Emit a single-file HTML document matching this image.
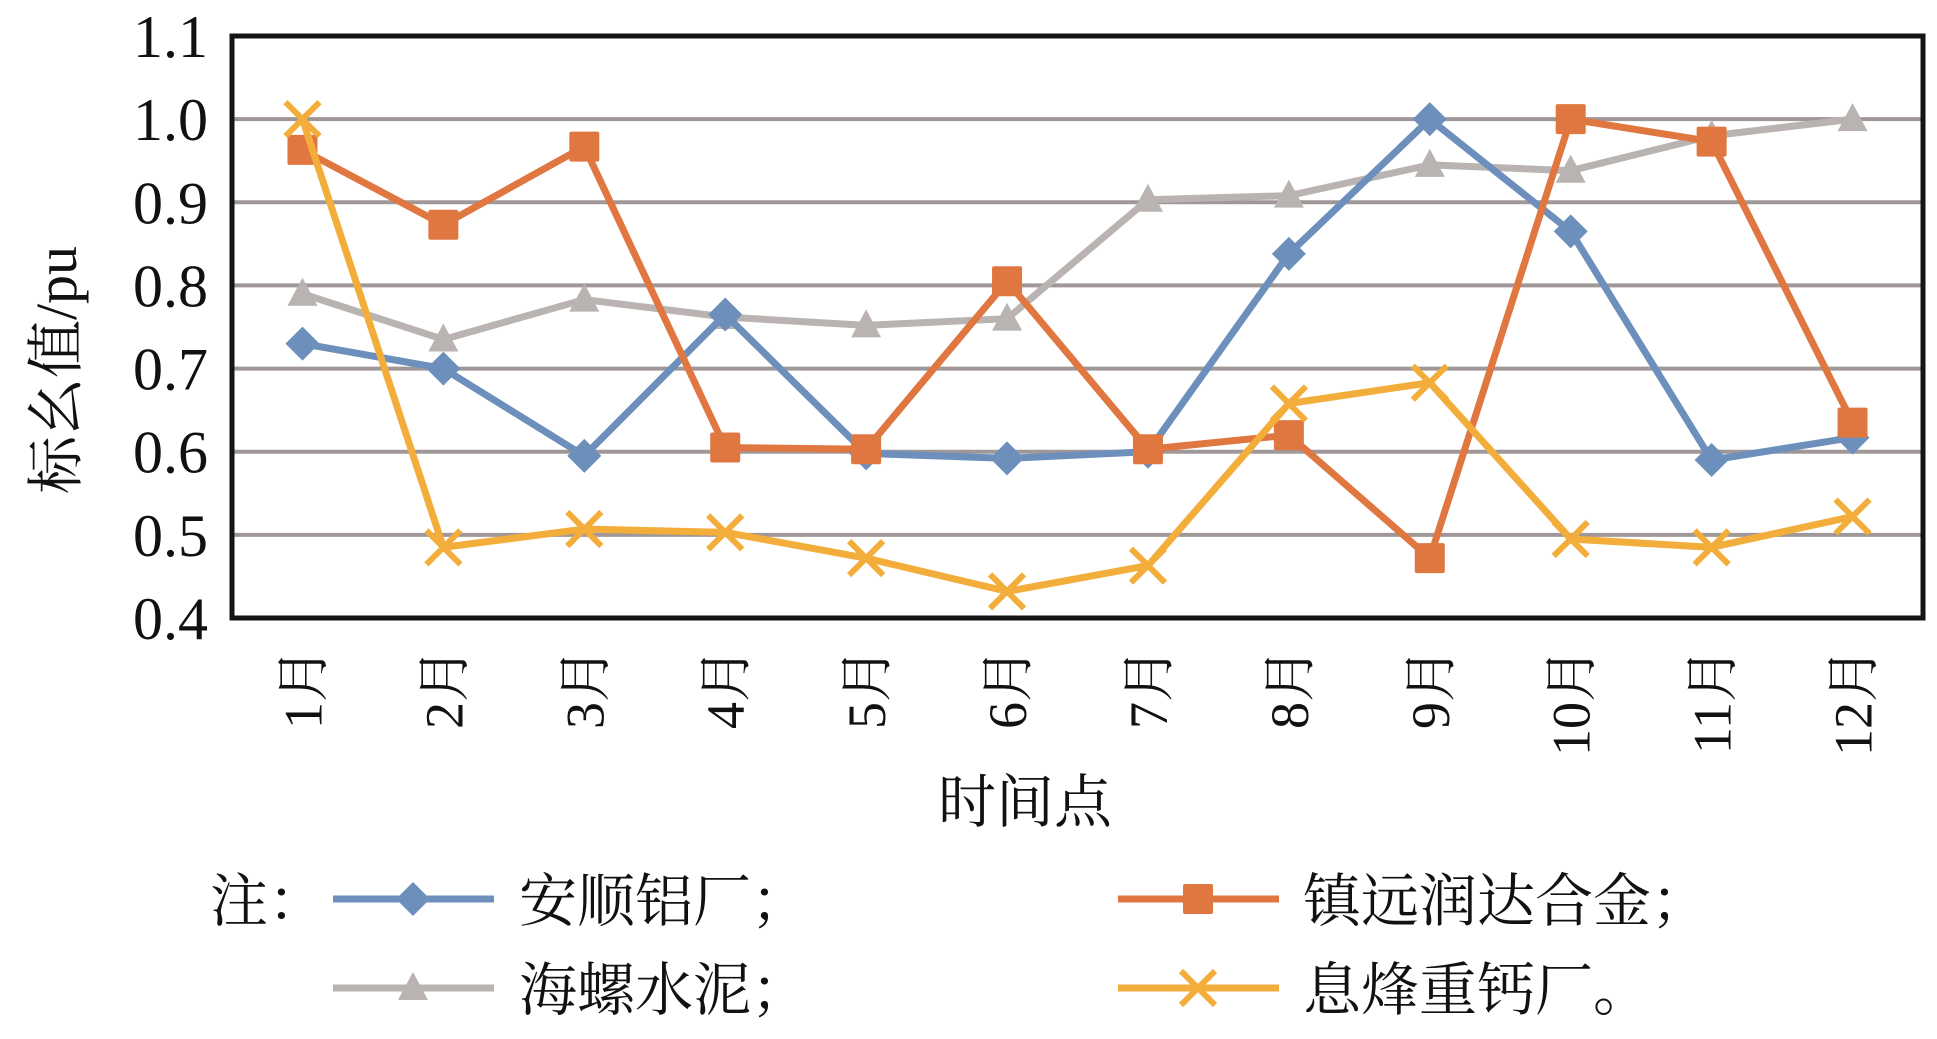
<!DOCTYPE html>
<html><head><meta charset="utf-8"><style>
html,body{margin:0;padding:0;background:#fff;}
svg text{font-family:"Liberation Serif","Noto Serif CJK SC",serif;fill:#111;}
</style></head><body>
<svg id="chart" width="1937" height="1034" viewBox="0 0 1937 1034" xmlns="http://www.w3.org/2000/svg"></svg>
<script>
const categories=["1月","2月","3月","4月","5月","6月","7月","8月","9月","10月","11月","12月"];
const yTicks=[0.4,0.5,0.6,0.7,0.8,0.9,1.0,1.1];
const anshun=[0.73,0.70,0.595,0.765,0.598,0.592,0.60,0.838,1.0,0.865,0.59,0.617];
const zhenyuan=[0.963,0.873,0.967,0.605,0.603,0.805,0.603,0.62,0.472,1.0,0.973,0.635];
const haiLuo=[0.79,0.735,0.783,0.762,0.752,0.76,0.903,0.908,0.945,0.938,0.98,1.0];
const xiFeng=[1.0,0.485,0.507,0.503,0.472,0.432,0.463,0.658,0.683,0.495,0.485,0.522];
const seriesNames=["安顺铝厂；","镇远润达合金；","海螺水泥；","息烽重钙厂。"];

const NS="http://www.w3.org/2000/svg";
const svg=document.getElementById('chart');
const L=232,R=1923,T=36,B=618,yMin=0.4,yMax=1.1;
const xs=i=>L+(R-L)/categories.length*(i+0.5);
const ys=v=>B-(v-yMin)/(yMax-yMin)*(B-T);
function mk(tag,attrs,parent){const e=document.createElementNS(NS,tag);for(const k in attrs)e.setAttribute(k,attrs[k]);(parent||svg).appendChild(e);return e;}

yTicks.forEach(t=>{
  if(t>yMin&&t<yMax){const g=mk('line',{x1:L,x2:R,y1:ys(t),y2:ys(t),stroke:'#a09898','stroke-width':4});
  
  }
  const tx=mk('text',{x:208,y:ys(t)+21,'text-anchor':'end','font-size':60});
  tx.textContent=t.toFixed(1);
  
  
});
const frame=mk('rect',{x:L,y:T,width:R-L,height:B-T,fill:'none',stroke:'#141414','stroke-width':5});



categories.forEach((c,i)=>{
  const tx=mk('text',{transform:`translate(${xs(i)+19},648) rotate(-90)`,'text-anchor':'end','font-size':54});
  tx.textContent=c;
  
  
});
const yt=mk('text',{transform:'translate(76,370) rotate(-90)','text-anchor':'middle','font-size':58});
yt.textContent='标幺值/pu';


const xt=mk('text',{x:1025,y:822,'text-anchor':'middle','font-size':58});
xt.textContent='时间点';



function marker(type,x,y,color,g){
  if(type==='diamond')return mk('polygon',{points:`${x},${y-17} ${x+17},${y} ${x},${y+17} ${x-17},${y}`,fill:color},g);
  if(type==='square')return mk('rect',{x:x-15,y:y-15,width:30,height:30,rx:2,fill:color},g);
  if(type==='triangle')return mk('polygon',{points:`${x},${y-16} ${x+15},${y+12} ${x-15},${y+12}`,fill:color},g);
  return mk('path',{d:`M${x-17},${y-17}L${x+17},${y+17}M${x+17},${y-17}L${x-17},${y+17}`,stroke:color,'stroke-width':6,fill:'none'},g);
}
const series=[[anshun,'#6c8fbb','diamond','series-anshun'],[zhenyuan,'#e07741','square','series-zhenyuan'],[haiLuo,'#b9b3b1','triangle','series-hailuo'],[xiFeng,'#f3ad3a','x','series-xifeng']];
const order=[2,0,1,3];
order.forEach(si=>{
  const [data,color,type,name]=series[si];
  const g=mk('g',{});
  
  
  const line=mk('polyline',{points:data.map((v,i)=>xs(i)+','+ys(v)).join(' '),fill:'none',stroke:color,'stroke-width':7,'stroke-linejoin':'round'},g);
  
  
  data.forEach((v,i)=>{const m=marker(type,xs(i),ys(v),color,g);
    
    });
});

const note=mk('text',{x:210,y:921,'font-size':58});
note.textContent='注：';


const legPos=[[333,899,519],[1118,899,1303],[333,988,519],[1118,988,1303]];
const legSeries=[0,1,2,3];
legSeries.forEach((si,k)=>{
  const [data,color,type]=series[si];
  const [x0,y0,tx0]=legPos[k];
  const g=mk('g',{});
  
  
  mk('line',{x1:x0,x2:x0+161,y1:y0,y2:y0,stroke:color,'stroke-width':7},g);
  marker(type,x0+80,y0,color,g);
  const t=mk('text',{x:tx0,y:y0+22,'font-size':58},g);
  t.textContent=seriesNames[si];
});
</script>
</body></html>
